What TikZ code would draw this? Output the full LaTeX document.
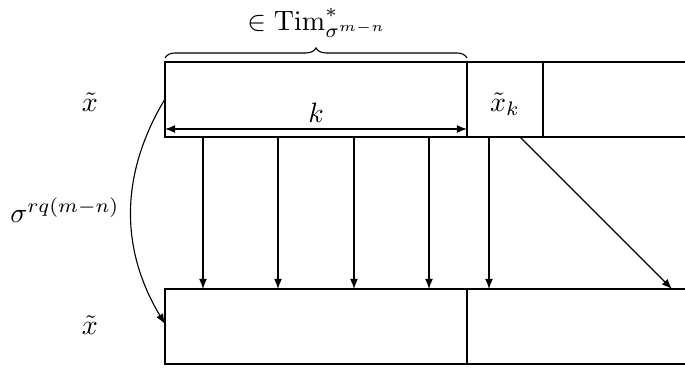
\documentclass[tikz,border=0pt]{standalone}
\usetikzlibrary{decorations.pathreplacing,arrows.meta}
\begin{document}
\begin{tikzpicture}[x=0.357pt,y=-0.357pt,
  arr/.style={-{Latex[length=3.6pt,width=2.8pt]},line width=0.4pt},
  ln/.style={line width=0.4pt},
  lbl/.style={inner sep=0pt}]
\useasboundingbox (0,0) rectangle (685,367);
% top row
\coordinate (t1) at (165,62);
\coordinate (t2) at (467,137);
\coordinate (t3) at (543,62);
\coordinate (tr) at (685,62);
\coordinate (trb) at (685,137);
\draw[ln] (tr) -- (t1) -- (165,137) -- (trb);
\draw[ln] (467,62) -- (t2);
\draw[ln] (t3) -- (543,137);
% bottom row
\coordinate (b1) at (165,289);
\coordinate (br) at (685,289);
\coordinate (brb) at (685,364);
\draw[ln] (br) -- (b1) -- (165,364) -- (brb);
\draw[ln] (467,289) -- (467,364);
% labels
\node[lbl] (xt) at (90,102) {$\tilde{x}$};
\node[lbl] (xb) at (90,325) {$\tilde{x}$};
\node[lbl] (xk) at (505,104) {$\tilde{x}_k$};
\node[lbl] (sig) at (65,210) {$\sigma^{rq(m-n)}$};
\node[lbl] (kl) at (316,113) {$k$};
\node[lbl] (tim) at (317,23) {$\in \mathrm{Tim}^*_{\sigma^{m-n}}$};
% brace
\coordinate (bl) at (165,58);
\coordinate (bre) at (467,58);
\draw[decorate,decoration={brace,amplitude=3.6pt},ln] (bl) -- (bre);
% k double arrow
\coordinate (kl1) at (165,129);
\coordinate (kl2) at (467,129);
\draw[{Latex[length=3.6pt,width=2.8pt]}-{Latex[length=3.6pt,width=2.8pt]},ln] (kl1) -- (kl2);
% vertical arrows
\foreach \i/\x in {1/203,2/278,3/354,4/429,5/489}{
  \coordinate (s\i) at (\x,137);
  \coordinate (e\i) at (\x,289);
  \draw[arr] (s\i) -- (e\i);
}
\coordinate (ds) at (520,137);
\coordinate (de) at (672,289);
\draw[arr] (ds) -- (de);
% curved arrow
\coordinate (cs) at (165,99);
\coordinate (ce) at (165,324);
\draw[arr] (cs) to[bend right=31] (ce);
\end{tikzpicture}
\end{document}
